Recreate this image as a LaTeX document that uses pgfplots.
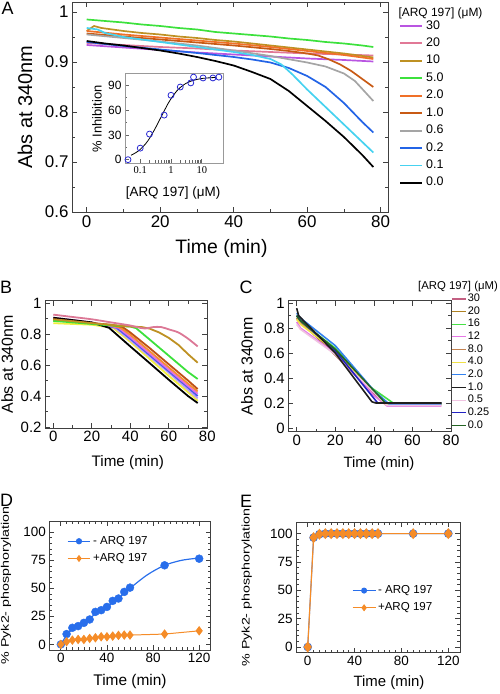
\documentclass[border=0pt]{standalone}
\usepackage{fontspec}
\setmainfont{Liberation Sans}
\newfontfamily\serifnum{Liberation Serif}
\usepackage{graphicx}
\usepackage{pgfplots}
\pgfplotsset{compat=1.18}
\newcommand\fs[1]{\fontsize{#1}{#1}\selectfont}
% panel A colours
\definecolor{aC30}{RGB}{185,85,225}
\definecolor{aC20}{RGB}{225,120,150}
\definecolor{aC10}{RGB}{190,145,35}
\definecolor{aC5}{RGB}{60,225,60}
\definecolor{aC2}{RGB}{240,112,40}
\definecolor{aC1}{RGB}{200,90,20}
\definecolor{aC06}{RGB}{165,165,165}
\definecolor{aC02}{RGB}{35,100,230}
\definecolor{aC01}{RGB}{70,210,240}
% panel B colours
\definecolor{bPink}{RGB}{220,120,150}
\definecolor{bGold}{RGB}{190,145,35}
\definecolor{bGreen}{RGB}{60,225,60}
\definecolor{bBrown}{RGB}{190,80,20}
\definecolor{bOrange}{RGB}{245,140,50}
\definecolor{bMag}{RGB}{225,110,225}
\definecolor{bBlue}{RGB}{70,90,240}
\definecolor{bLav}{RGB}{190,160,240}
\definecolor{bYel}{RGB}{240,240,60}
% panel C colours
\definecolor{cC30}{RGB}{195,95,130}
\definecolor{cC20}{RGB}{175,130,35}
\definecolor{cC16}{RGB}{70,225,70}
\definecolor{cC12}{RGB}{230,120,230}
\definecolor{cC8}{RGB}{195,130,80}
\definecolor{cC4}{RGB}{240,225,70}
\definecolor{cC2}{RGB}{50,130,240}
\definecolor{cC1}{RGB}{30,30,30}
\definecolor{cC05}{RGB}{240,195,225}
\definecolor{cC025}{RGB}{35,35,195}
\definecolor{cC0}{RGB}{35,100,35}
% panel D/E colours
\definecolor{dBlue}{RGB}{40,110,235}
\definecolor{dOrange}{RGB}{245,140,40}
\pgfplotsset{
  panel/.style={scale only axis, anchor=south west, tick align=inside, tick pos=both,
    axis line style={black!75, line width=0.8pt},
    every tick/.style={black!75, line width=0.7pt},
    major tick length=5pt, minor tick length=3pt,
    /pgf/number format/assume math mode=true,
    legend style={draw=none, fill=none, inner sep=0pt, legend cell align=left},
  },
  pyklegend/.style={
    legend style={font=\fs{11.6}, nodes={text height=8.5pt, text depth=2.5pt, inner sep=0pt},
      row sep=6.3pt, column sep=2pt},
    legend image code/.code={\draw[mark repeat=2,mark phase=2,##1] plot coordinates {(0pt,0pt) (11.5pt,0pt) (23pt,0pt)};},
  },
}
\begin{document}
\begin{tikzpicture}[x=1bp,y=1bp]
\useasboundingbox (0,0) rectangle (500,694);
% ---------------- Panel A ----------------
\begin{axis}[panel, at={(72bp,482bp)}, width=316bp, height=210bp,
  xmin=-4, xmax=82, ymin=0.6, ymax=1.02,
  xtick={0,20,40,60,80}, minor x tick num=1,
  ytick={0.6,0.7,0.8,0.9,1}, minor y tick num=1,
  yticklabel style={/pgf/number format/fixed,/pgf/number format/precision=1},
  tick label style={font=\fs{17}},
  xlabel={Time (min)}, ylabel={Abs at 340nm},
  xlabel style={font=\fs{19.5}, at={(axis description cs:0.473,-0.176)}, anchor=center},
  ylabel style={font=\fs{20}, at={(axis description cs:-0.149,0.5)}, anchor=center},
  legend style={at={(axis description cs:1.035,0.915)}, anchor=north west,
    font=\fs{12.5}, nodes={text height=9pt, text depth=3pt, inner sep=0pt}, row sep=5.5pt, column sep=3pt},
  legend image code/.code={\draw[#1, line width=2pt] (0pt,0pt) -- (22pt,0pt);},
  every axis plot/.append style={mark=none, line width=1.7pt},
]
\addplot[aC30] coordinates {(0,.934)(10,.929)(20,.924)(30,.919)(40,.915)(50,.911)(60,.907)(70,.904)(78,.901)};
\addlegendentry{30}
\addplot[aC20] coordinates {(0,.938)(10,.934)(20,.930)(30,.927)(40,.923)(50,.920)(60,.917)(70,.915)(78,.913)};
\addlegendentry{20}
\addplot[aC10] coordinates {(0,.962)(2,.972)(4,.968)(10,.962)(15,.958)(20,.955)(25,.951)(30,.948)(35,.944)(40,.941)(45,.937)(50,.933)(55,.929)(60,.925)(65,.921)(70,.917)(75,.912)(78,.909)};
\addlegendentry{10}
\addplot[aC5] coordinates {(0,.985)(5,.982)(10,.979)(15,.975)(20,.972)(25,.968)(30,.965)(35,.960)(40,.957)(45,.954)(50,.951)(55,.947)(60,.944)(65,.940)(70,.937)(75,.933)(78,.930)};
\addlegendentry{5.0}
\addplot[aC2] coordinates {(0,.962)(10,.955)(20,.949)(30,.943)(40,.937)(50,.930)(60,.922)(70,.914)(78,.906)};
\addlegendentry{2.0}
\addplot[aC1] coordinates {(0,.957)(10,.951)(20,.945)(30,.939)(40,.933)(50,.926)(55,.922)(60,.917)(63,.913)(66,.905)(69,.895)(72,.882)(75,.866)(78,.850)};
\addlegendentry{1.0}
\addplot[aC06] coordinates {(0,.955)(10,.948)(20,.941)(30,.933)(40,.923)(50,.912)(60,.899)(65,.891)(70,.877)(73,.862)(76,.838)(78,.822)};
\addlegendentry{0.6}
\addplot[aC02] coordinates {(0,.940)(10,.932)(20,.925)(30,.918)(40,.910)(45,.905)(50,.899)(55,.888)(60,.872)(65,.850)(70,.818)(75,.780)(78,.759)};
\addlegendentry{0.2}
\addplot[aC01] coordinates {(0,.968)(3,.965)(5,.958)(10,.950)(20,.940)(30,.930)(40,.920)(45,.914)(50,.906)(53,.895)(56,.875)(60,.845)(65,.810)(70,.775)(75,.740)(78,.719)};
\addlegendentry{0.1}
\addplot[black] coordinates {(0,.942)(5,.937)(10,.933)(15,.928)(20,.923)(25,.917)(30,.910)(35,.902)(40,.893)(45,.880)(50,.866)(55,.842)(60,.812)(65,.782)(70,.750)(75,.714)(78,.690)};
\addlegendentry{0.0}
\end{axis}
\node[font=\fs{12}] at (440.5,681) {[ARQ 197] (μM)};
% ---------------- Inset ----------------
\begin{axis}[scale only axis, anchor=south west, at={(125bp,531bp)}, width=98bp, height=90bp,
  xmode=log, xmin=0.032, xmax=49, ymin=-4, ymax=105,
  xtick={0.1,1,10}, xticklabels={0.1,1,10},
  ytick={0,30,60,90}, minor ytick={15,45,75},
  tick pos=left, tick align=inside,
  axis line style={black!40, line width=0.8pt},
  every tick/.style={black!60, line width=0.6pt},
  major tick length=4pt, minor tick length=2.5pt,
  axis background/.style={fill=white},
  /pgf/number format/assume math mode=true,
  yticklabel style={font=\fs{12}},
  xticklabel style={font=\serifnum\fs{10.5}},
  xlabel={{[ARQ 197] (μM)}}, ylabel={\% Inhibition},
  xlabel style={font=\fs{13.5}, at={(axis description cs:0.49,-0.33)}, anchor=center},
  ylabel style={font=\fs{13}, at={(axis description cs:-0.286,0.49)}, anchor=center},
]
\addplot[black, line width=0.8pt, smooth, mark=none] coordinates {(0.05,5.4)(0.07,8.2)(0.1,12.4)(0.15,19.3)(0.2,25.8)(0.3,37.2)(0.4,46.2)(0.6,59)(0.8,67.9)(1,73.8)(1.5,82.7)(2,87.4)(3,92.2)(5,95.8)(10,98.3)(20,99.3)(30,99.6)};
\addplot[only marks, mark=o, mark size=3pt, color={rgb,255:red,40;green,40;blue,210}, line width=0.8pt] coordinates {(0.04,0)(0.1,14)(0.2,31)(0.6,54)(1,78)(2,88)(4.4,93)(5.4,100)(11,99)(23,99)(36,100)};
\end{axis}
% ---------------- Panel B ----------------
\begin{axis}[panel, at={(45bp,266bp)}, width=162.3bp, height=127.3bp,
  xmin=-4.3, xmax=80, ymin=0.194, ymax=1.015,
  xtick={0,20,40,60,80}, minor x tick num=1,
  ytick={0.2,0.4,0.6,0.8,1}, minor y tick num=1,
  yticklabel style={/pgf/number format/fixed,/pgf/number format/precision=1},
  tick label style={font=\fs{15}},
  xlabel={Time (min)}, ylabel={Abs at 340nm},
  xlabel style={font=\fs{15.3}, at={(axis description cs:0.51,-0.268)}, anchor=center},
  ylabel style={font=\fs{16}, at={(axis description cs:-0.233,0.5)}, anchor=center},
  every axis plot/.append style={mark=none, line width=1.8pt},
]
\addplot[bYel] coordinates {(0,.87)(20,.86)(31,.84)(40,.75)(50,.64)(60,.53)(70,.425)(75,.37)};
\addplot[bLav] coordinates {(0,.90)(20,.87)(32,.84)(40,.76)(50,.655)(60,.55)(70,.44)(75,.385)};
\addplot[bBlue] coordinates {(0,.89)(20,.87)(33,.84)(40,.77)(50,.665)(60,.56)(70,.455)(75,.40)};
\addplot[bMag] coordinates {(0,.905)(20,.875)(34,.84)(40,.78)(50,.675)(60,.57)(70,.465)(75,.415)};
\addplot[bOrange] coordinates {(0,.89)(20,.87)(30,.855)(35,.84)(40,.795)(50,.69)(60,.585)(70,.48)(75,.43)};
\addplot[black] coordinates {(0,.905)(10,.89)(20,.875)(29,.84)(40,.72)(50,.613)(60,.505)(70,.40)(75,.355)};
\addplot[bBrown] coordinates {(0,.895)(20,.87)(30,.86)(36,.845)(40,.81)(50,.71)(60,.605)(70,.50)(75,.445)};
\addplot[bGreen] coordinates {(0,.885)(10,.875)(20,.865)(30,.855)(40,.848)(43,.838)(50,.765)(60,.66)(70,.555)(75,.51)};
\addplot[bGold] coordinates {(0,.895)(20,.87)(40,.848)(46,.845)(50,.835)(55,.81)(60,.775)(65,.73)(70,.67)(75,.615)};
\addplot[bPink, smooth] coordinates {(0,.925)(10,.91)(20,.895)(30,.875)(40,.855)(45,.84)(48,.836)(52,.845)(56,.845)(60,.83)(65,.81)(70,.77)(75,.72)};
\end{axis}
% ---------------- Panel C ----------------
\begin{axis}[panel, at={(288.3bp,262.3bp)}, width=162.7bp, height=131bp,
  xmin=-4.35, xmax=80, ymin=-0.03, ymax=1.02,
  xtick={0,20,40,60,80}, minor x tick num=1,
  ytick={0,0.2,0.4,0.6,0.8,1}, minor y tick num=1,
  yticklabel style={/pgf/number format/fixed,/pgf/number format/precision=1},
  tick label style={font=\fs{15}},
  xlabel={Time (min)}, ylabel={Abs at 340nm},
  xlabel style={font=\fs{15}, at={(axis description cs:0.557,-0.241)}, anchor=center},
  ylabel style={font=\fs{16}, at={(axis description cs:-0.254,0.5)}, anchor=center},
  legend style={at={(axis description cs:1.0,1.055)}, anchor=north west,
    font=\fs{11}, nodes={text height=8pt, text depth=2.5pt, inner sep=0pt}, row sep=2.2pt, column sep=1.5pt},
  legend image code/.code={\draw[#1, line width=1.2pt] (0pt,0pt) -- (14pt,0pt);},
  every axis plot/.append style={mark=none, line width=1.6pt},
]
\addplot[cC30] coordinates {(0,.90)(2,.86)(45,.20)(75,.20)};
\addlegendentry{30}
\addplot[cC20] coordinates {(0,.88)(2,.85)(47,.19)(75,.19)};
\addlegendentry{20}
\addplot[cC16] coordinates {(0,.90)(2,.85)(20,.64)(38,.33)(50,.20)(75,.195)};
\addlegendentry{16}
\addplot[cC12] coordinates {(0,.85)(2,.80)(20,.60)(40,.26)(47,.175)(75,.175)};
\addlegendentry{12}
\addplot[cC8] coordinates {(0,.88)(2,.84)(20,.62)(45,.21)(48,.19)(75,.19)};
\addlegendentry{8.0}
\addplot[cC4] coordinates {(0,.87)(2,.83)(20,.62)(46,.19)(75,.19)};
\addlegendentry{4.0}
\addplot[cC2] coordinates {(0,.92)(2,.88)(20,.66)(40,.30)(48,.19)(75,.19)};
\addlegendentry{2.0}
\addlegendimage{cC1, line width=1.6pt}
\addlegendentry{1.0}
\addplot[cC05] coordinates {(0,.83)(2,.79)(20,.59)(47,.18)(75,.18)};
\addlegendentry{0.5}
\addplot[cC025] coordinates {(0,.90)(2,.86)(20,.62)(42,.20)(75,.20)};
\addlegendentry{0.25}
\addplot[cC0] coordinates {(0,.90)(2,.86)(20,.63)(46,.20)(75,.20)};
\addlegendentry{0.0}
\addplot[forget plot, cC1] coordinates {(0,.96)(1,.90)(20,.60)(39,.21)(41,.20)(75,.20)};
\end{axis}
\node[font=\fs{11.4}] at (458,407) {[ARQ 197] (μM)};
% ---------------- Panel D ----------------
\begin{axis}[panel, pyklegend, at={(49.3bp,44bp)}, width=161.4bp, height=129bp,
  xmin=-10, xmax=130, ymin=-5, ymax=110,
  xtick={0,40,80,120}, minor x tick num=7,
  ytick={0,25,50,75,100}, minor y tick num=4,
  tick label style={font=\fs{13.5}},
  xlabel={Time (min)}, ylabel={\scalebox{1.3}[1]{\% Pyk2- phosphorylation}},
  xlabel style={font=\fs{15.5}, at={(axis description cs:0.5,-0.246)}, anchor=center},
  ylabel style={font=\fs{11}, at={(axis description cs:-0.268,0.5)}, anchor=center},
  legend style={at={(axis description cs:0.108,0.887)}, anchor=north west},
]
\addlegendimage{dBlue, line width=1.2pt, mark=*, mark size=2.5pt}
\addlegendentry{- ARQ 197}
\addplot[forget plot, dBlue, line width=1.2pt, smooth, mark=none] coordinates {(0,0)(5,8)(10,13.5)(20,20)(30,27)(40,33.5)(50,41)(60,50)(75,62)(90,70.5)(105,75)(120,77)};
\addplot[forget plot, only marks, mark=*, mark size=4pt, dBlue] coordinates {(0,0)(5,9.2)(10,14.8)(15,16.3)(20,19.2)(25,22.2)(30,29)(35,30.5)(40,33.4)(45,38.8)(50,40.9)(55,46.8)(60,50.6)(90,70.5)(120,76.4)};
\addplot[forget plot, dOrange, line width=1pt, mark=diamond*, mark size=4pt] coordinates {(0,0)(5,2.4)(10,3.8)(15,4.4)(20,4.4)(25,5.3)(30,5.9)(35,6.8)(40,6.8)(45,7.4)(50,8)(55,8.3)(60,8.3)(90,9.2)(120,12.1)};
\addlegendimage{dOrange, line width=1pt, mark=diamond*, mark size=2.8pt}
\addlegendentry{+ARQ 197}
\end{axis}
% ---------------- Panel E ----------------
\begin{axis}[panel, pyklegend, at={(296bp,41.3bp)}, width=164bp, height=130.4bp,
  xmin=-10, xmax=130, ymin=-5, ymax=110,
  xtick={0,40,80,120}, minor x tick num=7,
  ytick={0,25,50,75,100}, minor y tick num=4,
  tick label style={font=\fs{13.5}},
  xlabel={Time (min)}, ylabel={\scalebox{1.3}[1]{\% Pyk2- phosphorylation}},
  xlabel style={font=\fs{15}, at={(axis description cs:0.567,-0.227)}, anchor=center},
  ylabel style={font=\fs{11}, at={(axis description cs:-0.30,0.5)}, anchor=center},
  legend style={at={(axis description cs:0.341,0.52)}, anchor=north west},
]
\addplot[forget plot, dBlue, line width=1pt, mark=*, mark size=3.8pt] coordinates {(0,0)(5,96.5)(10,99.5)(15,100)(20,100)(25,100)(30,100)(35,100)(40,100)(45,100)(50,100)(55,100)(60,100)(90,100)(120,100)};
\addlegendimage{dBlue, line width=1pt, mark=*, mark size=2.5pt}
\addlegendentry{- ARQ 197}
\addplot[forget plot, dOrange, line width=1.2pt, mark=diamond*, mark size=4.6pt] coordinates {(0,0)(5,96.5)(10,99.5)(15,100)(20,100)(25,100)(30,100)(35,100)(40,100)(45,100)(50,100)(55,100)(60,100)(90,100)(120,100)};
\addlegendimage{dOrange, line width=1pt, mark=diamond*, mark size=2.8pt}
\addlegendentry{+ARQ 197}
\end{axis}
% panel letters
\node[font=\fs{18}] at (7.5,685.5) {A};
\node[font=\fs{18}] at (6,407) {B};
\node[font=\fs{18}] at (246,407) {C};
\node[font=\fs{18}] at (6.5,194) {D};
\node[font=\fs{18}] at (246,193) {E};
\end{tikzpicture}
\end{document}
